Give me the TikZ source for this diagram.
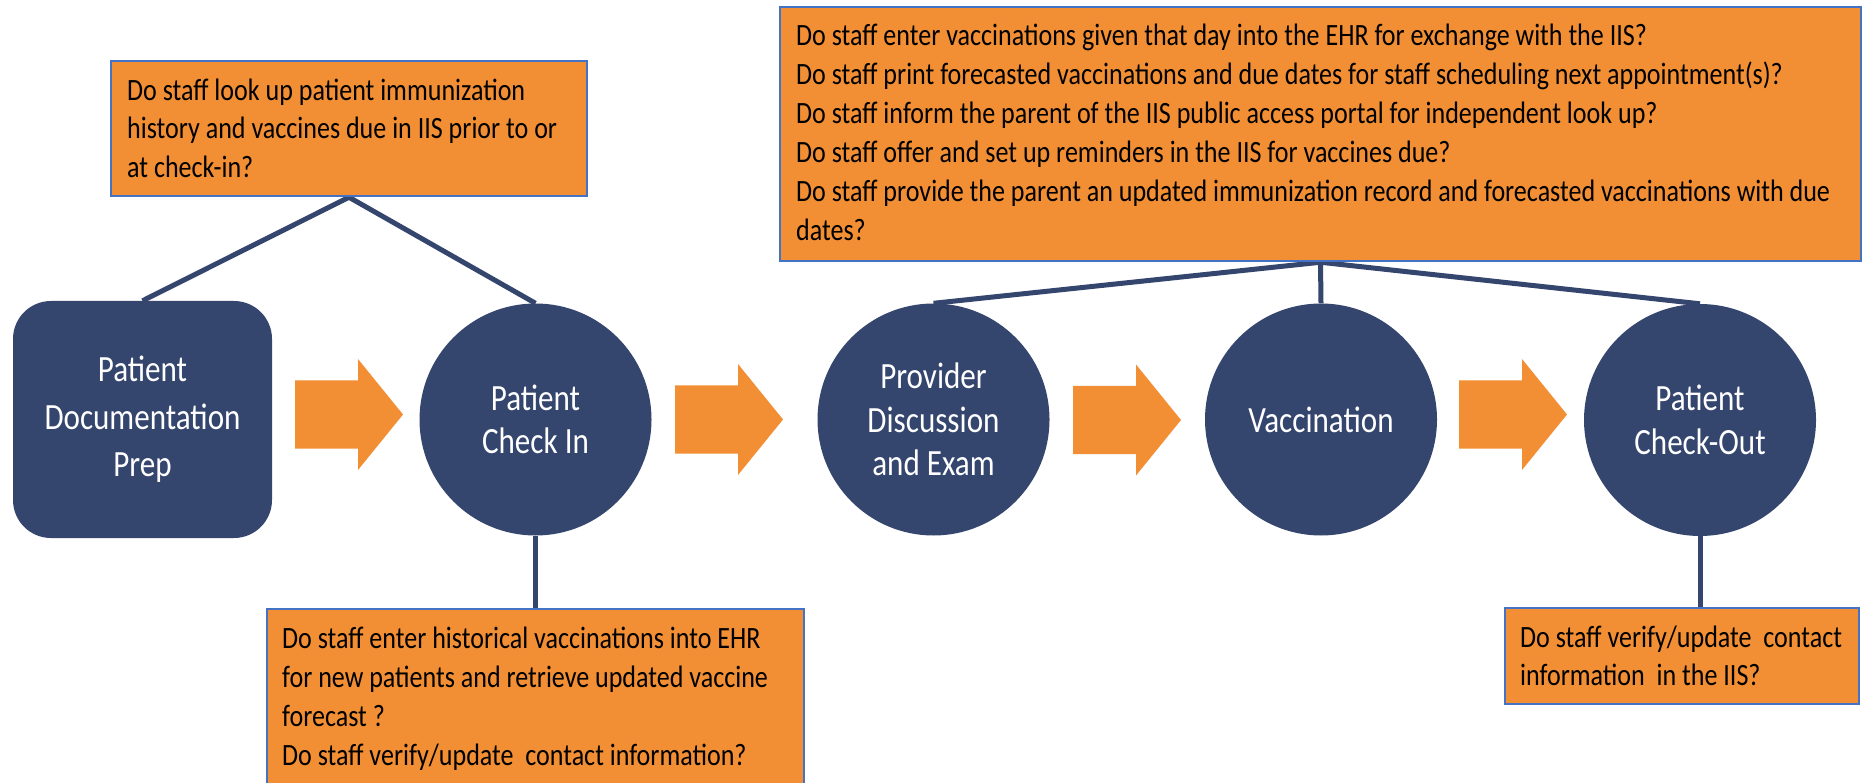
\documentclass[tikz,border=0pt]{standalone}
\usepackage{fontspec}
\setmainfont{Carlito}
\newfontfamily\condfont[FakeStretch=0.84]{Carlito}
\usetikzlibrary{backgrounds}
\definecolor{navy}{RGB}{52,69,110}
\definecolor{orangefill}{RGB}{242,143,52}
\definecolor{boxblue}{RGB}{68,114,196}
\tikzset{
  qbox/.style={draw=boxblue, line width=2.5pt, fill=orangefill, rectangle, inner sep=0pt},
  qtext/.style={anchor=north west, inner sep=0pt, align=left, text=black,
    font=\condfont\fontsize{31}{38.7}\selectfont},
  stage/.style={circle, fill=navy, minimum size=232pt, inner sep=0pt, align=center, text=white,
    font=\condfont\fontsize{37}{43.5}\selectfont},
  prepbox/.style={rectangle, rounded corners=38pt, fill=navy, minimum width=259pt, minimum height=237pt,
    inner sep=0pt, align=center, text=white, font=\condfont\fontsize{37}{47.5}\selectfont},
  link/.style={draw=navy, line width=5pt},
  blockarrow/.pic={\fill[orangefill] (0,-34) -- (63,-34) -- (63,-55.5) -- (108,0) -- (63,55.5) -- (63,34) -- (0,34) -- cycle;}
}
\begin{document}
\begin{tikzpicture}[x=1pt,y=-1pt]
\useasboundingbox (0,0) rectangle (1866,783);
\clip (0,0) rectangle (1866,783);

% question boxes
\node[qbox, minimum width=476pt, minimum height=135pt] (q1) at (349,128.5) {};
\node[qtext] (q1t) at (127,74) {\rule{0pt}{26pt}Do staff look up patient immunization\\history and vaccines due in IIS prior to or\\at check-in?};

\node[qbox, minimum width=1081pt, minimum height=254pt] (q2) at (1320.5,134) {};
\node[qtext, font=\condfont\fontsize{31}{39}\selectfont] (q2t) at (796,19) {\rule{0pt}{26pt}Do staff enter vaccinations given that day into the EHR for exchange with the IIS?\\Do staff print forecasted vaccinations and due dates for staff scheduling next appointment(s)?\\Do staff inform the parent of the IIS public access portal for independent look up?\\Do staff offer and set up reminders in the IIS for vaccines due?\\Do staff provide the parent an updated immunization record and forecasted vaccinations with due\\dates?};

\node[qbox, minimum width=537pt, minimum height=191pt] (q3) at (535.5,704.5) {};
\node[qtext, font=\condfont\fontsize{31}{39}\selectfont] (q3t) at (282,622) {\rule{0pt}{26pt}Do staff enter historical vaccinations into EHR\\for new patients and retrieve updated vaccine\\forecast ?\\Do staff verify/update\ \ contact information?};

\node[qbox, minimum width=354pt, minimum height=96pt] (q4) at (1682,656) {};
\node[qtext] (q4t) at (1520,621) {\rule{0pt}{26pt}Do staff verify/update\ \ contact\\information\ \ in the IIS?};

% stages
\node[prepbox] (prep) at (142.5,419.5) {Patient\\Documentation\\Prep};
\node[stage] (checkin) at (535.5,419.5) {Patient\\Check In};
\node[stage] (provider) at (933.5,419.5) {Provider\\Discussion\\and Exam};
\node[stage] (vacc) at (1321,419.5) {Vaccination};
\node[stage] (checkout) at (1700,420) {Patient\\Check-Out};

% block arrows
\pic at (295,414.5) {blockarrow};
\pic at (675,419.5) {blockarrow};
\pic at (1073,420) {blockarrow};
\pic at (1459,414.5) {blockarrow};

% connectors
\begin{scope}[on background layer]
\fill[white] (0,0) rectangle (1866,783);
\draw[link] (q1.south) -- (prep.north);
\draw[link] (q1.south) -- (checkin.north);
\draw[link] (q2.south) -- (provider.north);
\draw[link] (q2.south) -- (vacc.north);
\draw[link] (q2.south) -- (checkout.north);
\draw[link] (checkin.south) -- (q3.north);
\draw[link] (checkout.south) -- (checkout.south |- q4.north);
\end{scope}
\end{tikzpicture}
\end{document}
